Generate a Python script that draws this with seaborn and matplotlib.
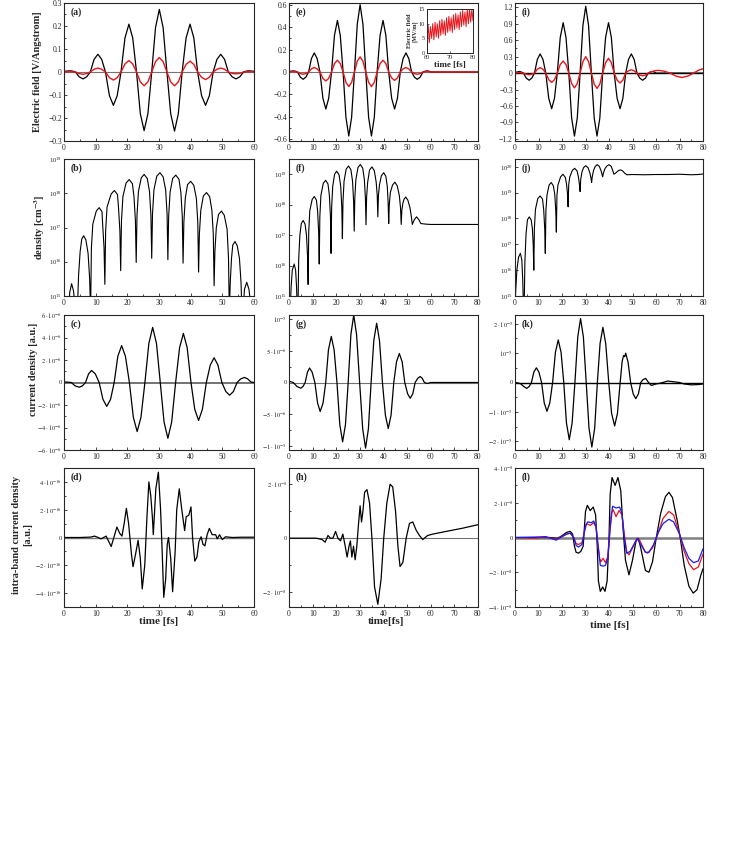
import matplotlib
matplotlib.use("Agg")
import matplotlib.pyplot as plt
import numpy as np
import seaborn as sns
from matplotlib.ticker import MultipleLocator, NullLocator, FixedLocator, LogLocator

sns.set_style("ticks")
plt.rcParams['font.family'] = ['Liberation Serif', 'DejaVu Serif']
plt.rcParams['mathtext.fontset'] = 'stix'
plt.rcParams['axes.linewidth'] = 0.8

# ---------------- data ----------------
# electric field, time grid shared by (a), (e), (i)
t_field = [0, 0.9, 1.8, 2.7, 3.6, 4.8, 6.0, 7.15, 8.3, 9.5,
           10.7, 11.9, 13.1, 14.35, 15.6, 16.8, 18.0, 19.25, 20.5, 21.7,
           22.9, 24.1, 25.3, 26.5, 27.7, 28.9, 30.1, 31.3, 32.5, 33.7,
           34.9, 36.1, 37.3, 38.55, 39.8, 41.0, 42.2, 43.45, 44.7, 45.9,
           47.1, 48.3, 49.5, 50.7, 51.9, 53.1, 54.3, 55.5, 56.7, 57.6,
           58.5, 59.3, 60]
t_tail = [61, 63.5, 66, 68.5, 71, 73.5, 76, 78, 80]

field_a_black = [0.003, 0.004, 0.005, 0.004, 0, -0.021, -0.03, -0.021, 0, 0.055,
                 0.077, 0.055, 0, -0.103, -0.145, -0.103, 0, 0.148, 0.208, 0.148,
                 0, -0.181, -0.255, -0.181, 0, 0.193, 0.272, 0.193, 0, -0.182,
                 -0.257, -0.182, 0, 0.148, 0.208, 0.148, 0, -0.103, -0.145, -0.103,
                 0, 0.055, 0.077, 0.055, 0, -0.021, -0.03, -0.021, 0, 0.004,
                 0.005, 0.004, 0.003]
field_a_red = [0.0, 0.001, 0.001, 0.001, 0, -0.007, -0.01, -0.007, 0, 0.012,
               0.017, 0.012, 0, -0.025, -0.035, -0.025, 0, 0.035, 0.05, 0.035,
               0, -0.043, -0.06, -0.043, 0, 0.045, 0.063, 0.045, 0, -0.043,
               -0.06, -0.043, 0, 0.033, 0.047, 0.033, 0, -0.023, -0.033, -0.023,
               0, 0.012, 0.017, 0.012, 0, -0.006, -0.008, -0.006, 0, 0.001,
               0.001, 0.001, 0]
field_e_black = [0.005, 0.007, 0.01, 0.007, 0, -0.046, -0.065, -0.046, 0, 0.12,
                 0.17, 0.12, 0, -0.234, -0.33, -0.234, 0, 0.327, 0.46, 0.327,
                 0, -0.405, -0.57, -0.405, 0, 0.426, 0.6, 0.426, 0, -0.405,
                 -0.57, -0.405, 0, 0.327, 0.46, 0.327, 0, -0.234, -0.33, -0.234,
                 0, 0.12, 0.17, 0.12, 0, -0.046, -0.065, -0.046, 0, 0.007,
                 0.01, 0.007, 0, 0, 0, 0, 0, 0, 0, 0, 0, 0]
field_e_red = [0.001, 0.002, 0.003, 0.002, 0, -0.014, -0.02, -0.014, 0, 0.028,
               0.04, 0.028, 0, -0.057, -0.08, -0.057, 0, 0.075, 0.105, 0.075,
               0, -0.092, -0.13, -0.092, 0, 0.096, 0.135, 0.096, 0, -0.092,
               -0.13, -0.092, 0, 0.075, 0.105, 0.075, 0, -0.053, -0.075, -0.053,
               0, 0.028, 0.04, 0.028, 0, -0.014, -0.02, -0.014, 0, 0.002,
               0.003, 0.002, 0, 0, 0, 0, 0, 0, 0, 0, 0, 0]
field_i_black = [0.01, 0.02, 0.03, 0.02, 0, -0.092, -0.13, -0.092, 0, 0.25,
                 0.35, 0.25, 0, -0.46, -0.65, -0.46, 0, 0.65, 0.92, 0.65,
                 0, -0.82, -1.15, -0.82, 0, 0.87, 1.22, 0.87, 0, -0.82,
                 -1.15, -0.82, 0, 0.65, 0.92, 0.65, 0, -0.46, -0.65, -0.46,
                 0, 0.25, 0.35, 0.25, 0, -0.092, -0.13, -0.092, 0, 0.02,
                 0.03, 0.02, 0, 0, 0, 0, 0, 0, 0, 0, 0, 0]
field_i_red = [0.0, 0.007, 0.01, 0.007, 0, -0.021, -0.03, -0.021, 0, 0.07,
               0.1, 0.07, 0, -0.12, -0.17, -0.12, 0, 0.156, 0.22, 0.156,
               0, -0.19, -0.27, -0.19, 0, 0.21, 0.3, 0.21, 0, -0.2,
               -0.28, -0.2, 0, 0.19, 0.27, 0.19, 0, -0.128, -0.18, -0.128,
               0, 0.043, 0.06, 0.043, 0, -0.035, -0.05, -0.035, 0, 0.015,
               0.03, 0.04, 0.045, 0.05, 0.035, 0, -0.055, -0.08, -0.055, 0, 0.05, 0.08]

# inset of (e): field after the pulse [MV/m]
t_inset = [60, 60.5, 61, 61.5, 62, 62.5, 63, 63.5, 64, 64.5, 65, 65.5, 66, 66.5,
           67, 67.5, 68, 68.5, 69, 69.5, 70, 70.5, 71, 71.5, 72, 72.5, 73, 73.5,
           74, 74.5, 75, 75.5, 76, 76.5, 77, 77.5, 78, 78.5, 79, 79.5, 80]
field_inset = [4, 9.5, 3.5, 9, 5, 10, 4.5, 10.5, 5.5, 10, 5, 11, 6, 11.5, 6.5,
               11, 6, 12, 7, 12.5, 7.5, 12, 7, 13, 8, 13.5, 8.5, 13, 8, 14,
               9, 14.5, 9.5, 14, 9, 15, 10, 15, 10.5, 15, 11]

# density, log10 [cm^-3]
t_dens_b = [1.5, 1.8, 2.4, 3.0, 3.4, 3.7,
            4.2, 4.6, 5.1, 5.6, 6.2, 6.9, 7.6, 8.1, 8.4,
            8.65, 9.1, 10.2, 11.1, 12.0, 12.2, 12.65, 12.9,
            13.15, 13.6, 14.9, 15.9, 16.9, 17.2, 17.65, 17.9,
            18.15, 18.6, 19.6, 20.6, 21.6, 22.1, 22.55, 22.8,
            23.05, 23.5, 24.4, 25.3, 26.3, 27.0, 27.45, 27.7,
            27.95, 28.4, 29.3, 30.3, 31.3, 32.1, 32.55, 32.8,
            33.05, 33.5, 34.3, 35.3, 36.3, 36.9, 37.35, 37.6,
            37.85, 38.3, 39.0, 40.0, 41.0, 41.8, 42.25, 42.5,
            42.75, 43.2, 44.0, 45.0, 46.0, 46.7, 47.15, 47.4,
            47.65, 48.1, 48.8, 49.7, 50.6, 51.5, 51.95, 52.2,
            52.5, 52.9, 53.3, 54.0, 54.7, 55.4, 55.9, 56.2,
            56.6, 57.0, 57.7, 58.4, 58.9, 59.3]
logn_b = [14.5, 15.1, 15.36, 15.15, 14.8, 14.5,
          14.5, 15.6, 16.3, 16.66, 16.76, 16.64, 16.25, 15.5, 14.5,
          16.4, 17.1, 17.48, 17.58, 17.46, 17.1, 16.4, 15.34,
          16.9, 17.6, 17.98, 18.08, 17.96, 17.6, 16.9, 15.74,
          17.2, 17.9, 18.3, 18.4, 18.28, 17.9, 17.2, 15.98,
          17.35, 18.05, 18.45, 18.55, 18.43, 18.05, 17.35, 16.1,
          17.4, 18.1, 18.5, 18.6, 18.48, 18.1, 17.4, 16.06,
          17.33, 18.03, 18.43, 18.53, 18.41, 18.03, 17.33, 15.96,
          17.15, 17.85, 18.25, 18.35, 18.23, 17.85, 17.15, 15.7,
          16.8, 17.5, 17.92, 18.02, 17.9, 17.5, 16.8, 15.3,
          16.3, 17.0, 17.38, 17.48, 17.36, 16.95, 16.1, 14.5,
          15.4, 16.1, 16.49, 16.59, 16.47, 16.1, 15.4, 14.5,
          14.7, 15.2, 15.4, 15.2, 14.8, 14.5]

t_dens_f = [0.5, 0.9, 1.4, 2.2, 2.8, 3.2, 3.5,
            3.8, 4.1, 4.6, 5.2, 6.0, 6.8, 7.4, 7.85, 8.1,
            8.35, 8.8, 9.8, 10.7, 11.6, 12.1, 12.55, 12.8,
            13.05, 13.5, 14.5, 15.5, 16.5, 17.1, 17.55, 17.8,
            18.05, 18.5, 19.3, 20.2, 21.2, 21.9, 22.35, 22.6,
            22.85, 23.3, 24.2, 25.2, 26.2, 26.9, 27.35, 27.6,
            27.85, 28.3, 29.2, 30.2, 31.2, 31.9, 32.35, 32.6,
            32.85, 33.3, 34.1, 35.1, 36.1, 36.9, 37.35, 37.6,
            37.85, 38.3, 39.1, 40.1, 41.0, 41.6, 41.95, 42.2,
            42.45, 42.9, 43.8, 44.8, 45.8, 46.7, 47.2, 47.5,
            47.75, 48.2, 48.7, 49.4, 50.3, 51.2, 51.8, 52.2,
            53.0, 54.0, 55.0, 55.8, 58, 60, 70, 80]
logn_f = [14.5, 15.3, 15.85, 16.05, 15.85, 15.3, 14.5,
          14.5, 16.2, 17.0, 17.38, 17.48, 17.36, 17.0, 16.3, 15.38,
          17.1, 17.8, 18.17, 18.27, 18.15, 17.8, 17.1, 16.05,
          17.6, 18.3, 18.7, 18.8, 18.68, 18.3, 17.6, 16.4,
          17.9, 18.6, 19.0, 19.1, 18.98, 18.6, 17.9, 16.88,
          18.1, 18.77, 19.17, 19.27, 19.15, 18.77, 18.1, 17.13,
          18.2, 18.82, 19.22, 19.32, 19.2, 18.82, 18.2, 17.34,
          18.25, 18.74, 19.14, 19.24, 19.12, 18.74, 18.3, 17.6,
          18.3, 18.65, 18.95, 19.05, 18.93, 18.6, 18.1, 17.38,
          18.0, 18.4, 18.64, 18.74, 18.62, 18.3, 17.9, 17.35,
          17.8, 18.05, 18.18, 18.25, 18.15, 17.9, 17.6, 17.35,
          17.5, 17.6, 17.5, 17.38, 17.36, 17.35, 17.35, 17.35]

t_dens_j = [0.0, 0.3, 0.8, 1.5, 2.3, 2.9, 3.3, 3.6,
            3.9, 4.2, 4.7, 5.3, 6.1, 6.9, 7.4, 7.75, 8.0,
            8.25, 8.7, 9.7, 10.7, 11.7, 12.2, 12.65, 12.9,
            13.15, 13.6, 14.5, 15.4, 16.3, 16.9, 17.35, 17.6,
            17.85, 18.3, 19.4, 20.4, 21.4, 21.9, 22.35, 22.6,
            22.85, 23.3, 24.4, 25.4, 26.4, 27.0, 27.45, 27.7,
            27.95, 28.5, 29.2, 30.1, 31.1, 31.9, 32.35, 32.6,
            32.85, 33.4, 34.1, 35.0, 35.9, 36.6, 37.0, 37.3,
            37.6, 38.3, 39.1, 40.0, 40.9, 41.5, 42.1,
            43.0, 44.0, 44.9, 45.8, 46.7, 47.6,
            50, 55, 60, 65, 70, 75, 78, 80]
logn_j = [14.5, 15.2, 16.0, 16.5, 16.65, 16.4, 15.6, 14.5,
          14.5, 16.3, 17.4, 17.95, 18.06, 17.94, 17.6, 17.0, 16.0,
          17.6, 18.35, 18.77, 18.87, 18.75, 18.35, 17.6, 16.65,
          18.3, 18.9, 19.29, 19.39, 19.27, 18.95, 18.3, 17.47,
          18.9, 19.3, 19.61, 19.71, 19.59, 19.35, 18.95, 18.45,
          19.3, 19.6, 19.86, 19.94, 19.84, 19.6, 19.3, 19.04,
          19.5, 19.8, 19.97, 20.04, 19.96, 19.75, 19.55, 19.39,
          19.6, 19.85, 20.01, 20.08, 20.01, 19.85, 19.72, 19.61,
          19.75, 19.93, 20.03, 20.08, 20.02, 19.88, 19.71,
          19.77, 19.85, 19.88, 19.84, 19.75, 19.69,
          19.7, 19.69, 19.7, 19.7, 19.71, 19.69, 19.7, 19.72]

# current density
t_cur_c = [0, 1.2, 2.3, 3.5, 4.8, 5.8, 6.8, 7.75, 8.7, 9.9,
           11.1, 12.3, 13.5, 14.7, 15.85, 17.0, 18.2, 19.4, 20.65, 21.9,
           23.1, 24.3, 25.55, 26.8, 28.0, 29.2, 30.4, 31.6, 32.8, 34.0,
           35.25, 36.5, 37.7, 38.9, 40.1, 41.3, 42.5, 43.7, 44.95, 46.2,
           47.4, 48.6, 49.85, 51.1, 52.3, 53.5, 54.65, 55.8, 57.0, 58.0,
           59.0, 60.0]
cur_c = [0.05, 0.03, 0, -0.3, -0.42, -0.3, 0, 0.76, 1.07, 0.76,
         0, -1.5, -2.12, -1.5, 0, 2.33, 3.28, 2.33, 0, -3.1,
         -4.36, -3.1, 0, 3.48, 4.9, 3.48, 0, -3.52, -4.96, -3.52,
         0, 3.1, 4.36, 3.1, 0, -2.39, -3.37, -2.39, 0, 1.56,
         2.2, 1.56, 0, -0.8, -1.13, -0.8, 0, 0.32, 0.45, 0.32,
         0.05, 0]  # x 1e-6

t_cur_g = [0, 1.8, 3.4, 5.0, 5.9, 6.85, 7.8, 8.7, 9.8, 10.95,
           12.1, 13.2, 14.4, 15.55, 16.7, 17.9, 19.1, 20.3, 21.5, 22.7,
           23.9, 25.05, 26.2, 27.4, 28.6, 29.9, 31.2, 32.4, 33.6, 34.75,
           35.9, 37.1, 38.3, 39.55, 40.8, 42.0, 43.2, 44.35, 45.5, 46.7,
           47.9, 49.0, 50.2, 51.3, 52.4, 53.4, 54.5, 55.5, 56.4, 57.3,
           58.5, 60, 70, 80]
cur_g = [0.2, 0, -0.64, -0.9, -0.64, 0, 1.63, 2.3, 1.63, 0,
         -3.27, -4.6, -3.27, 0, 5.18, 7.3, 5.18, 0, -6.67, -9.4,
         -6.67, 0, 7.6, 10.7, 7.6, 0, -7.38, -10.4, -7.38, 0,
         6.67, 9.4, 6.67, 0, -5.18, -7.3, -5.18, 0, 3.27, 4.6,
         3.27, 0, -1.78, -2.5, -1.78, 0, 0.67, 0.95, 0.67, 0,
         -0.15, 0, 0, 0]  # x 1e-6

t_cur_k = [0, 1.5, 2.5, 3.8, 5.0, 6.0, 7.0, 8.0, 9.1, 10.2,
           11.3, 12.45, 13.6, 14.8, 16.0, 17.2, 18.4, 19.6, 20.75, 21.9,
           23.1, 24.3, 25.5, 26.7, 27.9, 29.1, 30.3, 31.5, 32.7, 33.9,
           35.05, 36.2, 37.4, 38.6, 39.9, 41.1, 42.4, 43.6, 44.75, 45.6,
           46.2, 46.7, 47.1, 48.1, 49.2, 50.3, 51.4, 52.5, 53.5, 54.5,
           55.6, 57, 58, 60, 62, 65, 67, 70, 72, 75,
           78, 80]
cur_k = [0, -0.02, -0.05, -0.14, -0.2, -0.14, 0, 0.35, 0.5, 0.35,
         0, -0.7, -0.98, -0.7, 0, 1.03, 1.45, 1.03, 0, -1.38,
         -1.95, -1.38, 0, 1.55, 2.18, 1.55, 0, -1.56, -2.2, -1.56,
         0, 1.33, 1.88, 1.33, 0, -1.05, -1.48, -1.05, 0, 0.72,
         0.92, 0.88, 1.0, 0.7, 0, -0.39, -0.55, -0.39, 0, 0.1,
         0.14, -0.02, -0.1, -0.05, -0.02, 0.05, 0.03, 0.0, -0.05, -0.08,
         -0.07, -0.05]  # x 1e-5

# intra-band current density
t_intra_d = [0, 5, 8.5, 9.6, 10.6, 11.7, 13.3, 14.9, 16.0, 16.7,
             17.6, 18.3, 19.0, 19.7, 20.4, 21.3, 21.8, 22.6, 23.4, 24.1,
             24.7, 25.5, 26.2, 26.8, 27.4, 27.9, 28.2, 29.0, 29.8, 30.5,
             31.0, 31.5, 32.1, 32.6, 33.0, 33.7, 34.3, 35.1, 35.6, 36.4,
             37.2, 38.1, 38.6, 39.4, 40.1, 40.6, 41.3, 42.0, 42.6, 43.3,
             43.9, 44.5, 45.2, 45.9, 46.8, 47.9, 48.4, 49.1, 50.0, 51.0,
             53.2, 56, 60]
intra_d = [0, 0, 0.03, 0.1, 0.02, -0.1, 0.1, -0.65, 0.2, 0.75,
           0.3, 0.1, 1.0, 2.1, 1.0, -1.2, -2.1, -1.2, -0.2, -1.5,
           -3.7, -2.0, 1.5, 4.0, 3.0, 1.5, 0.2, 3.5, 4.7, 2.0,
           -1.0, -4.3, -3.0, -0.5, 0, -1.5, -3.9, -1.0, 2.0, 3.5,
           2.0, 0.5, 1.5, 1.6, 2.2, 0, -1.7, -1.4, -0.3, 0.05,
           -0.5, -0.6, 0.2, 0.65, 0.2, 0.2, -0.1, 0.2, -0.15, 0.05,
           0.0, 0.02, 0.02]  # x 1e-16

t_intra_h = [0, 10, 11.5, 14, 15.3, 16.5, 17.5, 18.6, 19.7, 20.7,
             21.8, 22.8, 23.8, 24.6, 25.4, 26, 26.6, 27.3, 28, 28.7,
             29.4, 30.1, 30.7, 31.3, 32, 33, 34.1, 35.1, 36.2, 37.6,
             39, 40.1, 41.4, 42.8, 43.9, 45.1, 46.1, 47.0, 48.2, 49.6,
             51, 52.4, 53.8, 55.2, 56.6, 58.7, 60.8, 66.5, 73.5, 80]
intra_h = [0, 0, 0, -0.05, -0.15, 0.1, 0.0, 0.0, 0.25, 0.0,
           -0.1, 0.15, -0.3, -0.7, -0.3, -0.1, -0.7, -0.3, -0.8, -0.3,
           0.5, 1.2, 0.6, 1.0, 1.7, 1.8, 1.3, 0, -1.8, -2.45,
           -1.5, 0, 1.3, 2.0, 1.9, 1.0, -0.3, -1.05, -0.9, 0,
           0.55, 0.6, 0.3, 0.1, -0.05, 0.1, 0.15, 0.25, 0.37, 0.5]  # x 1e-8

t_l_black = [0, 10, 15, 18, 20, 22, 23.5, 24.5, 25.3, 26,
             27, 28, 29, 29.5, 30, 30.8, 32, 33.3, 34.3, 35,
             35.5, 36.3, 37.3, 38.3, 39.2, 40, 40.5, 41.3, 42.6, 43.8,
             45, 46, 47, 48.5, 50, 51.5, 52.5, 53.5, 55.5, 57,
             58.5, 60, 62, 64, 65.5, 67, 69, 70.3, 72, 74,
             75.8, 77.5, 79, 80]
l_black = [0, 0, 0, -0.05, 0.1, 0.3, 0.35, 0.2, -0.5, -0.85,
           -0.9, -0.8, -0.5, 0.5, 1.5, 1.85, 1.55, 1.75, 1.3, -0.5,
           -2.5, -3.1, -2.85, -3.1, -2.5, 0, 2.5, 3.45, 3.0, 3.45,
           2.7, 0.5, -1.3, -2.15, -1.3, -0.2, -0.05, -0.6, -1.9, -2.0,
           -1.4, -0.1, 1.4, 2.35, 2.6, 2.3, 1.0, 0, -1.6, -2.8,
           -3.2, -3.0, -2.2, -1.8]
t_l_red = [0, 8, 13, 17.5, 20, 22, 23.5, 25, 26, 27,
           28.5, 29.5, 30.5, 32, 33.5, 34.5, 35.3, 36, 36.5, 37.5,
           38.5, 39.5, 40.3, 41, 41.8, 43, 44.3, 45.5, 46.5, 47.5,
           48.5, 50, 52, 53, 55.5, 56.5, 58.5, 60.5, 63, 65.5,
           67.5, 70, 72, 74, 76, 78, 80]
l_red = [0, -0.05, 0.03, -0.1, 0.05, 0.2, 0.25, 0, -0.35, -0.4,
         -0.3, 0.3, 0.8, 0.7, 0.85, 0.6, -0.5, -1.2, -1.4, -1.2,
         -1.45, -1.1, 0.3, 1.4, 1.6, 1.2, 1.55, 1.3, 0.2, -0.8,
         -1.0, -0.6, -0.05, -0.15, -0.85, -0.9, -0.6, 0.1, 1.1, 1.5,
         1.3, 0.2, -0.8, -1.5, -1.85, -1.7, -0.95]
t_l_blue = [0, 8, 13, 17.5, 20, 22, 23.5, 25, 26, 27,
            28.5, 29.5, 30, 31, 32.5, 33.5, 34.5, 35.5, 36.3, 37.5,
            38.5, 39.5, 40.5, 41.5, 43, 44.5, 45.5, 46.5, 47.5, 49,
            51, 52, 53.5, 55.5, 57, 59, 61, 63, 65.5, 67.5,
            70, 72, 74, 76, 78, 80]
l_blue = [0, 0.02, 0.05, -0.15, 0.05, 0.2, 0.25, 0, -0.45, -0.55,
          -0.4, 0.3, 0.7, 0.9, 0.85, 0.95, 0.6, -0.6, -1.6, -1.65,
          -1.6, -1.2, 0.5, 1.8, 1.7, 1.75, 1.4, 0, -0.9, -0.8,
          -0.3, -0.05, -0.4, -0.85, -0.85, -0.4, 0.3, 0.8, 1.05, 0.9,
          0.2, -0.6, -1.2, -1.45, -1.35, -0.65]  # x 1e-8

# ---------------- layout ----------------
W, H = 747, 848
fig = plt.figure(figsize=(W / 100, H / 100), dpi=100)
cols = [(64, 254), (289, 478), (515, 703)]
rows = [(3, 141), (159, 296), (315, 450), (468, 607)]

def make_ax(r, c):
    (x0, x1), (y0, y1) = cols[c], rows[r]
    return fig.add_axes([x0 / W, 1 - y1 / H, (x1 - x0) / W, (y1 - y0) / H])

axes = [[make_ax(r, c) for c in range(3)] for r in range(4)]

def line(ax, x, y, color='k', lw=0.9):
    sns.lineplot(x=x, y=y, ax=ax, color=color, linewidth=lw,
                 estimator=None, sort=False, legend=False)

def style(ax, xmax, letter, ysize=5.5):
    ax.set_xlim(0, xmax)
    ax.xaxis.set_major_locator(MultipleLocator(10))
    ax.xaxis.set_minor_locator(MultipleLocator(5))
    ax.tick_params(which='both', direction='in', labelsize=5.5, width=0.6, pad=2)
    ax.tick_params(axis='y', labelsize=ysize, pad=1.5)
    ax.tick_params(which='major', length=2.5)
    ax.tick_params(which='minor', length=1.5)
    ax.set_xlabel('')
    ax.set_ylabel('')
    for s in ax.spines.values():
        s.set_linewidth(0.8)
    ax.text(0.035, 0.965, letter, transform=ax.transAxes, ha='left', va='top',
            fontsize=7, fontweight='bold')

def yticks(ax, vals, labels, minor=None):
    ax.yaxis.set_major_locator(FixedLocator(vals))
    ax.set_yticklabels(labels)
    if minor is not None:
        ax.yaxis.set_minor_locator(MultipleLocator(minor))

RED = '#e8141b'

# row 1: electric field
t_long = t_field + t_tail
ax = axes[0][0]
ax.axhline(0, color='0.45', lw=0.8)
line(ax, t_field, field_a_black)
line(ax, t_field, field_a_red, color=RED, lw=1.0)
ax.set_ylim(-0.3, 0.3)
style(ax, 60, '(a)')
yticks(ax, [-0.3, -0.2, -0.1, 0, 0.1, 0.2, 0.3],
       ['\u22120.3', '\u22120.2', '\u22120.1', '0', '0.1', '0.2', '0.3'], 0.05)

ax = axes[0][1]
ax.axhline(0, color='0.45', lw=0.8)
line(ax, t_long, field_e_black)
line(ax, t_long, field_e_red, color=RED, lw=1.0)
ax.set_ylim(-0.615, 0.615)
style(ax, 80, '(e)')
yticks(ax, [-0.6, -0.4, -0.2, 0, 0.2, 0.4, 0.6],
       ['\u22120.6', '\u22120.4', '\u22120.2', '0', '0.2', '0.4', '0.6'], 0.1)

ax = axes[0][2]
ax.axhline(0, color='k', lw=1.0)
line(ax, t_long, field_i_black)
line(ax, t_long, field_i_red, color=RED, lw=1.0)
ax.set_ylim(-1.24, 1.28)
style(ax, 80, '(i)')
yticks(ax, [-1.2, -0.9, -0.6, -0.3, 0, 0.3, 0.6, 0.9, 1.2],
       ['\u22121.2', '\u22120.9', '\u22120.6', '\u22120.3', '0', '0.3', '0.6', '0.9', '1.2'], 0.15)

# inset of (e)
axin = fig.add_axes([427 / W, 1 - 53 / H, 46 / W, 44 / H])
line(axin, t_inset, field_inset, color=RED, lw=0.7)
axin.set_xlim(60, 80)
axin.set_ylim(0, 15)
axin.xaxis.set_major_locator(FixedLocator([60, 70, 80]))
axin.yaxis.set_major_locator(FixedLocator([0, 5, 10, 15]))
axin.tick_params(direction='in', labelsize=4.5, length=1.5, width=0.5, pad=1.5)
axin.set_xlabel('time [fs]', fontsize=6.5, fontweight='bold', labelpad=0.5)
axin.set_ylabel('Electric field\n[MV/m]', fontsize=4.5, fontweight='bold', labelpad=1, linespacing=1.0)
for s in axin.spines.values():
    s.set_linewidth(0.7)

# row 2: density
for c, (tt, ll, ytop, letter) in enumerate([(t_dens_b, logn_b, 19.0, '(b)'),
                                            (t_dens_f, logn_f, 19.5, '(f)'),
                                            (t_dens_j, logn_j, 20.3, '(j)')]):
    ax = axes[1][c]
    line(ax, tt, 10 ** np.array(ll), lw=0.8)
    ax.set_yscale('log')
    ax.set_ylim(1e15, 10 ** ytop)
    style(ax, 60 if c == 0 else 80, letter, ysize=4.8)
    ax.yaxis.set_major_locator(LogLocator(base=10, numticks=10))
    ax.yaxis.set_minor_locator(NullLocator())

# row 3: current density
ax = axes[2][0]
ax.axhline(0, color='0.45', lw=1.4)
line(ax, t_cur_c, cur_c)
ax.set_ylim(-6, 6)
style(ax, 60, '(c)', ysize=4.6)
yticks(ax, [-6, -4, -2, 0, 2, 4, 6],
       [r'$-6\cdot10^{-6}$', r'$-4\cdot10^{-6}$', r'$-2\cdot10^{-6}$', '0',
        r'$2\cdot10^{-6}$', r'$4\cdot10^{-6}$', r'$6\cdot10^{-6}$'], 1)

ax = axes[2][1]
ax.axhline(0, color='0.45', lw=0.8)
line(ax, t_cur_g, cur_g)
ax.set_ylim(-10.7, 10.7)
style(ax, 80, '(g)', ysize=4.6)
yticks(ax, [-10, -5, 0, 5, 10],
       [r'$-1\cdot10^{-5}$', r'$-5\cdot10^{-6}$', '0', r'$5\cdot10^{-6}$', r'$10^{-5}$'], 2.5)

ax = axes[2][2]
ax.axhline(0, color='k', lw=1.0)
line(ax, t_cur_k, cur_k)
ax.set_ylim(-2.3, 2.3)
style(ax, 80, '(k)', ysize=4.6)
yticks(ax, [-2, -1, 0, 1, 2],
       [r'$-2\cdot10^{-5}$', r'$-1\cdot10^{-5}$', '0', r'$10^{-5}$', r'$2\cdot10^{-5}$'], 0.5)

# row 4: intra-band current density
ax = axes[3][0]
ax.axhline(0, color='0.45', lw=1.0)
line(ax, t_intra_d, intra_d)
ax.set_ylim(-5, 5)
style(ax, 60, '(d)', ysize=4.6)
yticks(ax, [-4, -2, 0, 2, 4],
       [r'$-4\cdot10^{-16}$', r'$-2\cdot10^{-16}$', '0', r'$2\cdot10^{-16}$', r'$4\cdot10^{-16}$'], 1)

ax = axes[3][1]
ax.axhline(0, color='0.45', lw=0.8)
line(ax, t_intra_h, intra_h)
ax.set_ylim(-2.55, 2.6)
style(ax, 80, '(h)', ysize=4.6)
yticks(ax, [-2, 0, 2], [r'$-2\cdot10^{-8}$', '0', r'$2\cdot10^{-8}$'], 1)

ax = axes[3][2]
ax.axhline(0, color='0.5', lw=1.8)
line(ax, t_l_black, l_black)
line(ax, t_l_red, l_red, color=RED, lw=0.9)
line(ax, t_l_blue, l_blue, color='#1a1aff', lw=0.9)
ax.set_ylim(-4, 4)
style(ax, 80, '(l)', ysize=4.6)
yticks(ax, [-4, -2, 0, 2, 4],
       [r'$-4\cdot10^{-8}$', r'$-2\cdot10^{-8}$', '0', r'$2\cdot10^{-8}$', r'$4\cdot10^{-8}$'], 1)

# axis titles
lab = dict(fontsize=7.5, fontweight='bold', rotation=90, ha='center', va='center')
fig.text(38 / W, 1 - 72 / H, 'Electric field [V/Angstrom]', **lab)
fig.text(40 / W, 1 - 227 / H, 'density [cm$^{\\mathbf{-3}}$]', **lab)
fig.text(33 / W, 1 - 369 / H, 'current density [a.u.]', **lab)
fig.text(22 / W, 1 - 535 / H, 'intra-band current density\n[a.u.]', linespacing=1.3, **lab)

xl = dict(fontsize=8, fontweight='bold', ha='center', va='center')
fig.text(159 / W, 1 - 621 / H, 'time [fs]', **xl)
fig.text(386 / W, 1 - 621 / H, 'time[fs]', **xl)
fig.text(610 / W, 1 - 625 / H, 'time [fs]', **xl)

fig.savefig('out.png', dpi=100)
